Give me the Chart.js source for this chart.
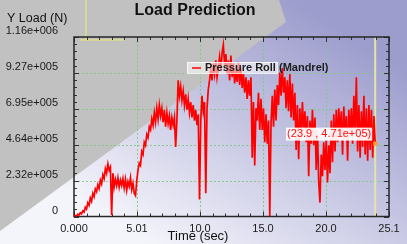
<!DOCTYPE html>
<html><head><meta charset="utf-8">
<script src="https://cdn.jsdelivr.net/npm/chart.js@4"></script>
<style>html,body{margin:0;padding:0;background:#c3c3c3;}canvas{display:block;}</style>
</head><body>
<canvas id="c" width="407" height="244"></canvas>
<script>
const chartTitle = 'Load Prediction';
const yAxisTitle = 'Y Load (N)';
const xAxisTitle = 'Time (sec)';
const seriesName = 'Pressure Roll (Mandrel)';
const cursorLabel = '(23.9 , 4.71e+05)';
const xTickValues = [0, 5.02, 10.04, 15.06, 20.08, 25.1];
const xTickLabels = ['0.000', '5.01', '10.0', '15.0', '20.0', '25.1'];
const yTickValues = [0, 232000, 464000, 695000, 927000, 1160000];
const yTickLabels = ['0', '2.32e+005', '4.64e+005', '6.95e+005', '9.27e+005', '1.16e+006'];
const times = [
0.0,0.1,0.2,0.3,0.4,0.5,0.6,0.7,0.8,0.9,
1.0,1.1,1.2,1.3,1.4,1.5,1.6,1.7,1.8,1.9,
2.0,2.1,2.2,2.3,2.4,2.5,2.6,2.7,2.8,2.9,
3.0,3.1,3.2,3.3,3.4,3.5,3.6,3.7,3.8,3.9,
4.0,4.1,4.2,4.3,4.4,4.5,4.6,4.7,4.8,4.9,
5.0,5.1,5.2,5.3,5.4,5.5,5.6,5.7,5.8,5.9,
6.0,6.1,6.2,6.3,6.4,6.5,6.6,6.7,6.8,6.9,
7.0,7.1,7.2,7.3,7.4,7.5,7.6,7.7,7.8,7.9,
8.0,8.1,8.2,8.3,8.4,8.5,8.6,8.7,8.8,8.9,
9.0,9.1,9.2,9.3,9.4,9.5,9.6,9.7,9.8,9.9,
10.0,10.1,10.2,10.3,10.4,10.5,10.6,10.7,10.8,10.9,
11.0,11.1,11.2,11.3,11.4,11.5,11.6,11.7,11.8,11.9,
12.0,12.1,12.2,12.3,12.4,12.5,12.6,12.7,12.8,12.9,
13.0,13.1,13.2,13.3,13.4,13.5,13.6,13.7,13.8,13.9,
14.0,14.1,14.2,14.3,14.4,14.5,14.6,14.7,14.8,14.9,
15.0,15.1,15.2,15.3,15.4,15.5,15.6,15.7,15.8,15.9,
16.0,16.1,16.2,16.3,16.4,16.5,16.6,16.7,16.8,16.9,
17.0,17.1,17.2,17.3,17.4,17.5,17.6,17.7,17.8,17.9,
18.0,18.1,18.2,18.3,18.4,18.5,18.6,18.7,18.8,18.9,
19.0,19.1,19.2,19.3,19.4,19.5,19.6,19.7,19.8,19.9,
20.0,20.1,20.2,20.3,20.4,20.5,20.6,20.7,20.8,20.9,
21.0,21.1,21.2,21.3,21.4,21.5,21.6,21.7,21.8,21.9,
22.0,22.1,22.2,22.3,22.4,22.5,22.6,22.7,22.8,22.9,
23.0,23.1,23.2,23.3,23.4,23.5,23.6,23.7,23.8,23.9,
24.0];
const loads = [
0,6000,2000,15000,9000,24000,17000,36000,28000,60000,
48000,88000,72000,120000,98000,150000,128000,178000,160000,205000,
180000,235000,210000,270000,245000,310000,280000,340000,300000,320000,
10000,280000,190000,240000,200000,250000,190000,235000,200000,245000,
185000,240000,170000,225000,195000,250000,175000,215000,150000,135000,
230000,300000,345000,330000,420000,400000,480000,460000,530000,510000,
580000,560000,630000,590000,670000,610000,700000,630000,720000,650000,
700000,610000,690000,580000,670000,600000,650000,560000,640000,590000,
640000,450000,620000,880000,780000,840000,750000,810000,720000,790000,
690000,760000,670000,740000,640000,720000,620000,690000,590000,660000,
110000,620000,780000,680000,740000,150000,700000,820000,880000,950000,
880000,990000,920000,1010000,900000,960000,1030000,940000,1060000,1110000,
980000,1050000,920000,1010000,880000,1040000,900000,990000,860000,950000,
870000,1000000,850000,960000,830000,920000,800000,900000,760000,880000,
780000,900000,380000,740000,330000,700000,620000,800000,560000,760000,
560000,700000,480000,660000,470000,620000,0,600000,780000,580000,
820000,620000,850000,720000,930000,780000,960000,800000,900000,700000,
880000,680000,920000,640000,860000,620000,800000,430000,720000,370000,
700000,500000,740000,560000,680000,480000,650000,260000,620000,470000,
690000,460000,640000,300000,560000,220000,90000,400000,260000,480000,
300000,500000,220000,460000,280000,620000,350000,660000,420000,690000,
480000,700000,520000,680000,400000,710000,500000,650000,360000,690000,
520000,700000,470000,780000,540000,900000,420000,720000,380000,680000,
450000,780000,400000,700000,360000,720000,430000,690000,380000,650000,
471000];

const FONT = 'Arial, "Liberation Sans", sans-serif';

const bgPlugin = {
  id: 'bg',
  beforeDraw(chart) {
    const ctx = chart.ctx, W = chart.width, H = chart.height;
    ctx.save();
    const g = ctx.createLinearGradient(150, 244, 300, 0);
    g.addColorStop(0, '#f4f4fb');
    g.addColorStop(1, '#9c9ccd');
    ctx.fillStyle = g;
    ctx.fillRect(0, 0, W, H);
    ctx.fillStyle = '#c1c1c1';
    ctx.beginPath();
    ctx.moveTo(0, 0); ctx.lineTo(279, 0); ctx.lineTo(286, 22); ctx.lineTo(0, 231);
    ctx.closePath(); ctx.fill();
    ctx.strokeStyle = '#dede88'; ctx.lineWidth = 1.5;
    ctx.beginPath(); ctx.moveTo(86, 0); ctx.lineTo(86, 40); ctx.moveTo(80, 40); ctx.lineTo(124, 40); ctx.stroke();
    ctx.restore();
  }
};

const framePlugin = {
  id: 'frame',
  beforeDatasetsDraw(chart) {
    const { ctx, chartArea: a, scales: { x, y } } = chart;
    ctx.save();
    ctx.strokeStyle = 'rgba(130,200,130,0.9)';
    ctx.lineWidth = 1;
    ctx.setLineDash([2, 2]);
    ctx.beginPath();
    xTickValues.slice(1, -1).forEach(v => {
      const px = Math.round(x.getPixelForValue(v)) + 0.5;
      ctx.moveTo(px, a.top); ctx.lineTo(px, a.bottom);
    });
    yTickValues.slice(1, -1).forEach(v => {
      const py = Math.round(y.getPixelForValue(v)) + 0.5;
      ctx.moveTo(a.left, py); ctx.lineTo(a.right, py);
    });
    ctx.stroke();
    ctx.setLineDash([]);
    const cx = x.getPixelForValue(times[times.length - 1]);
    ctx.strokeStyle = '#e4e4a8'; ctx.lineWidth = 2;
    ctx.beginPath(); ctx.moveTo(cx, a.top); ctx.lineTo(cx, a.bottom); ctx.stroke();
    ctx.strokeStyle = '#333'; ctx.lineWidth = 1;
    ctx.beginPath();
    for (let i = 0; i < xTickValues.length; i++) {
      const v = xTickValues[i];
      const px = Math.round(x.getPixelForValue(v)) + 0.5;
      ctx.moveTo(px, a.bottom); ctx.lineTo(px, a.bottom - 5);
      ctx.moveTo(px, a.top); ctx.lineTo(px, a.top + 5);
      if (i < xTickValues.length - 1) {
        const step = (xTickValues[i + 1] - v) / 5;
        for (let k = 1; k < 5; k++) {
          const mx = Math.round(x.getPixelForValue(v + k * step)) + 0.5;
          ctx.moveTo(mx, a.bottom); ctx.lineTo(mx, a.bottom - 3);
          ctx.moveTo(mx, a.top); ctx.lineTo(mx, a.top + 3);
        }
      }
    }
    for (let i = 0; i < yTickValues.length; i++) {
      const v = yTickValues[i];
      const py = Math.round(y.getPixelForValue(v)) + 0.5;
      ctx.moveTo(a.left, py); ctx.lineTo(a.left + 5, py);
      ctx.moveTo(a.right, py); ctx.lineTo(a.right - 5, py);
      if (i < yTickValues.length - 1) {
        const step = (yTickValues[i + 1] - v) / 5;
        for (let k = 1; k < 5; k++) {
          const my = Math.round(y.getPixelForValue(v + k * step)) + 0.5;
          ctx.moveTo(a.left, my); ctx.lineTo(a.left + 3, my);
          ctx.moveTo(a.right, my); ctx.lineTo(a.right - 3, my);
        }
      }
    }
    ctx.stroke();
    ctx.strokeStyle = '#262626'; ctx.lineWidth = 1.5;
    ctx.strokeRect(a.left, a.top, a.right - a.left, a.bottom - a.top);
    ctx.restore();
  },
  afterDatasetsDraw(chart) {
    const { ctx } = chart;
    ctx.save();
    ctx.fillStyle = 'rgba(255,255,255,0.55)';
    ctx.fillRect(187, 62, 90, 11);
    ctx.strokeStyle = 'rgba(255,255,255,0.8)'; ctx.lineWidth = 1;
    ctx.strokeRect(187.5, 62.5, 90, 11);
    ctx.strokeStyle = '#ff0000'; ctx.lineWidth = 1.5;
    ctx.beginPath(); ctx.moveTo(192, 68); ctx.lineTo(201, 68); ctx.stroke();
    ctx.fillStyle = '#1e1e1e';
    ctx.font = 'bold 11px ' + FONT;
    ctx.textBaseline = 'middle'; ctx.textAlign = 'left';
    ctx.fillText(chart.data.datasets[0].label, 205, 68);
    const meta = chart.getDatasetMeta(0);
    const pt = meta.data[meta.data.length - 1];
    ctx.fillStyle = '#ff9a20';
    ctx.fillRect(pt.x - 2, pt.y - 2, 4, 4);
    ctx.font = '11px ' + FONT;
    const tw = ctx.measureText(cursorLabel).width;
    const right = pt.x - 3, bottom = pt.y - 3;
    ctx.fillStyle = 'rgba(255,255,255,0.92)';
    ctx.fillRect(right - tw - 2, bottom - 13, tw + 2, 13);
    ctx.fillStyle = '#ff1010';
    ctx.textAlign = 'right';
    ctx.fillText(cursorLabel, right - 1, bottom - 6.5);
    ctx.restore();
  },
  afterDraw(chart) {
    const { ctx } = chart;
    ctx.save();
    ctx.fillStyle = '#111';
    ctx.textBaseline = 'middle';
    ctx.textAlign = 'center';
    ctx.font = 'bold 16px ' + FONT;
    ctx.fillText(chartTitle, 195, 11);
    ctx.font = '13px ' + FONT;
    ctx.fillText(xAxisTitle, 198, 236);
    ctx.textAlign = 'left';
    ctx.font = '12.5px ' + FONT;
    ctx.fillText(yAxisTitle, 7, 19);
    ctx.restore();
  }
};

new Chart(document.getElementById('c'), {
  type: 'line',
  data: {
    datasets: [{
      label: seriesName,
      data: times.map((t, i) => ({ x: t, y: loads[i] })),
      borderColor: '#ff0000',
      borderWidth: 1.7,
      pointRadius: 0,
      tension: 0,
      fill: false
    }]
  },
  options: {
    responsive: false,
    animation: false,
    devicePixelRatio: 1,
    layout: { padding: { top: 37, right: 18, left: 0, bottom: 0 } },
    plugins: { legend: { display: false }, tooltip: { enabled: false }, title: { display: false } },
    scales: {
      x: {
        type: 'linear', min: 0, max: 25.1,
        afterBuildTicks: s => { s.ticks = xTickValues.map(v => ({ value: v })); },
        afterFit: s => { s.height = 27.5; },
        ticks: {
          callback: (v, i) => xTickLabels[i],
          font: { family: FONT, size: 11 }, color: '#1a1a1a',
          padding: 6, maxRotation: 0, autoSkip: false
        },
        grid: { display: false, drawTicks: false },
        border: { display: false }
      },
      y: {
        type: 'linear', min: 0, max: 1160000,
        afterBuildTicks: s => { s.ticks = yTickValues.map(v => ({ value: v })); },
        afterFit: s => { s.width = 74; },
        ticks: {
          callback: (v, i) => yTickLabels[i],
          font: { family: FONT, size: 11 }, color: '#1a1a1a',
          padding: 16, labelOffset: -6, autoSkip: false
        },
        grid: { display: false, drawTicks: false },
        border: { display: false }
      }
    }
  },
  plugins: [bgPlugin, framePlugin]
});
</script>
</body></html>
